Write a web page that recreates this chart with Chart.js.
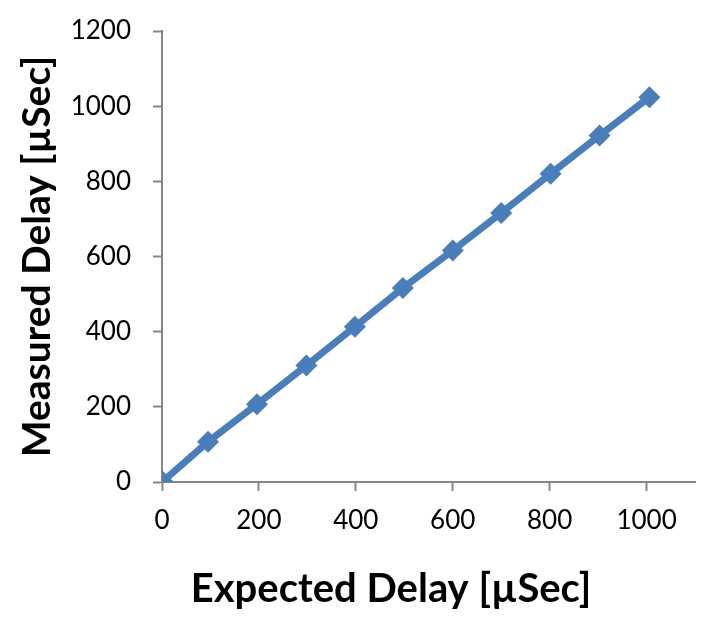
<!DOCTYPE html>
<html>
  <head>
    <title>Measured vs Expected Delay</title>
    <script src="https://cdn.jsdelivr.net/npm/chart.js"></script>
    <style>
      html, body {
        margin: 0;
        padding: 0;
        background: #fff;
      }
      .chart-box {
        width: 709px;
        height: 623px;
      }
    </style>
  </head>
  <body>
    <div class="chart-box">
      <canvas id="chart1" width="709" height="623"></canvas>
    </div>

    <script>
      // Data
      const expectedDelay = [1, 95, 196, 298, 398, 497, 600, 700, 802, 903, 1006];
      const measuredDelay = [1, 107, 207, 310, 413, 516, 616, 716, 820, 922, 1024];
      const xTicks = [0, 200, 400, 600, 800, 1000];
      const yTicks = [0, 200, 400, 600, 800, 1000, 1200];
      const xTitle = "Expected Delay [µSec]";
      const yTitle = "Measured Delay [µSec]";

      const points = expectedDelay.map((x, i) => ({ x: x, y: measuredDelay[i] }));
      const blue = "#4a7ebb";
      const axisGrey = "#868686";
      const font = "Lato, 'DejaVu Sans', sans-serif";

      // x title sits left of the plot centre in the original, so draw it by hand
      const xTitlePlugin = {
        id: "xTitle",
        afterDraw(chart) {
          const c = chart.ctx;
          c.save();
          c.font = "bold 40px " + font;
          c.fillStyle = "#000";
          c.textAlign = "center";
          c.textBaseline = "middle";
          c.fillText(xTitle, 391, 589);
          c.restore();
        },
      };

      const ctx1 = document.getElementById("chart1").getContext("2d");
      new Chart(ctx1, {
        type: "scatter",
        data: {
          datasets: [
            {
              data: points,
              showLine: true,
              borderColor: blue,
              backgroundColor: blue,
              borderWidth: 7,
              pointStyle: "rectRot",
              pointRadius: 11,
              pointHoverRadius: 11,
              pointBorderWidth: 0,
            },
          ],
        },
        plugins: [xTitlePlugin],
        options: {
          responsive: false,
          animation: false,
          layout: { padding: { left: 0, right: 14, top: 31, bottom: 0 } },
          plugins: {
            legend: { display: false },
            tooltip: { enabled: false },
          },
          scales: {
            x: {
              type: "linear",
              min: 0,
              max: 1100,
              afterBuildTicks: (s) => {
                s.ticks = xTicks.map((v) => ({ value: v }));
              },
              afterFit: (s) => {
                s.height = 141;
              },
              border: { color: axisGrey, width: 2 },
              grid: {
                drawOnChartArea: false,
                drawTicks: true,
                tickLength: 9,
                tickColor: axisGrey,
                tickWidth: 2,
              },
              ticks: {
                color: "#000",
                padding: 14,
                maxRotation: 0,
                font: { family: font, size: 26 },
                callback: (v) => String(v),
              },
              title: { display: false },
            },
            y: {
              type: "linear",
              min: 0,
              max: 1200,
              afterBuildTicks: (s) => {
                s.ticks = yTicks.map((v) => ({ value: v }));
              },
              afterFit: (s) => {
                s.width = 162;
                s.paddingTop = 0;
                s.paddingBottom = 0;
              },
              border: { color: axisGrey, width: 2 },
              grid: {
                drawOnChartArea: false,
                drawTicks: true,
                tickLength: 9,
                tickColor: axisGrey,
                tickWidth: 2,
              },
              ticks: {
                color: "#000",
                padding: 22,
                font: { family: font, size: 26 },
                callback: (v) => String(v),
              },
              title: {
                display: true,
                text: yTitle,
                color: "#000",
                padding: 14,
                font: { family: font, size: 39, weight: "bold" },
              },
            },
          },
        },
      });
    </script>
  </body>
</html>
